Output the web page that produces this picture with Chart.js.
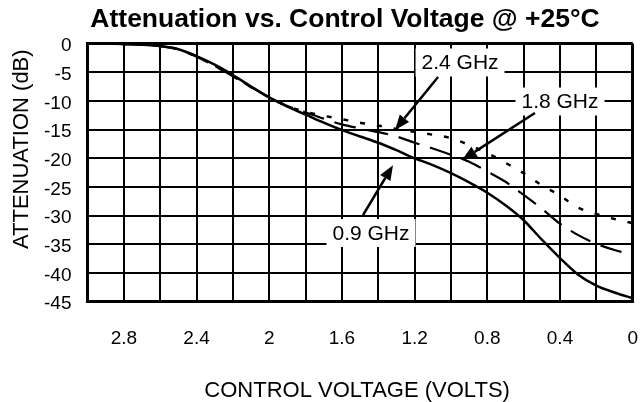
<!DOCTYPE html>
<html>
<head>
<meta charset="utf-8">
<script src="https://cdn.jsdelivr.net/npm/chart.js@4.4.1/dist/chart.umd.min.js"></script>
<style>
  html, body { margin: 0; padding: 0; background: #fff; }
  #wrap { width: 640px; height: 402px; }
</style>
</head>
<body>
<div id="wrap"><canvas id="chart" width="640" height="402"></canvas></div>
<script>
// Control voltage (V), every 0.1 V from 3.0 down to 0
const volts = [3.0, 2.9, 2.8, 2.7, 2.6, 2.5, 2.4, 2.3, 2.2, 2.1, 2.0,
               1.9, 1.8, 1.7, 1.6, 1.5, 1.4, 1.3, 1.2, 1.1, 1.0,
               0.9, 0.8, 0.7, 0.6, 0.5, 0.4, 0.3, 0.2, 0.1, 0.0];

// Attenuation (dB) per frequency
const att09 = [0, -0.05, -0.1, -0.2, -0.45, -1.0, -2.2, -3.7, -5.5, -7.5, -9.4,
               -11.0, -12.4, -13.8, -15.1, -16.2, -17.3, -18.6, -20.0, -21.2, -22.6,
               -24.2, -26.0, -28.2, -30.8, -34.2, -37.4, -40.3, -42.2, -43.4, -44.4];
const att18 = [0, -0.05, -0.1, -0.2, -0.45, -1.0, -2.3, -3.9, -5.7, -7.6, -9.4,
               -10.9, -12.0, -13.1, -14.1, -14.8, -15.45, -16.2, -17.3, -18.3, -19.4,
               -20.6, -22.3, -24.1, -26.4, -28.8, -31.4, -33.4, -34.9, -36.0, -36.8];
const att24 = [0, -0.05, -0.1, -0.2, -0.45, -1.0, -2.3, -3.9, -5.7, -7.6, -9.4,
               -10.9, -11.9, -12.6, -13.2, -13.8, -14.3, -14.9, -15.4, -15.9, -16.5,
               -17.7, -19.1, -20.8, -22.6, -24.7, -26.5, -28.6, -29.7, -30.6, -31.3];

const seriesNames = ['0.9 GHz', '1.8 GHz', '2.4 GHz'];

// x ticks every 0.2 V for the grid, but only these get a label
const xLabelTicks = [2.8, 2.4, 2.0, 1.6, 1.2, 0.8, 0.4, 0];

// Callouts: label centre, arrow start and arrow tip, all in data units
const callouts = [
    { text: '2.4 GHz', at: [0.95, -3.31], from: [1.071, -5.84], to: [1.308, -15.07] },
    { text: '1.8 GHz', at: [0.40, -10.11], from: [0.538, -12.1], to: [0.939, -20.3] },
    { text: '0.9 GHz', at: [1.44, -33.03], from: [1.484, -29.9], to: [1.319, -21.2] }
];

const FONT = '"Liberation Sans", Arial, Helvetica, sans-serif';

function toXY(values) {
    return volts.map((v, i) => ({ x: v, y: values[i] }));
}

function drawArrow(ctx, x1, y1, x2, y2) {
    const ang = Math.atan2(y2 - y1, x2 - x1);
    const headLen = 15, headW = 6;
    const bx = x2 - headLen * Math.cos(ang);
    const by = y2 - headLen * Math.sin(ang);
    ctx.beginPath();
    ctx.moveTo(x1, y1);
    ctx.lineTo(bx, by);
    ctx.lineWidth = 2.5;
    ctx.strokeStyle = '#000';
    ctx.stroke();
    ctx.beginPath();
    ctx.moveTo(x2, y2);
    ctx.lineTo(bx + headW * Math.sin(ang), by - headW * Math.cos(ang));
    ctx.lineTo(bx - headW * Math.sin(ang), by + headW * Math.cos(ang));
    ctx.closePath();
    ctx.fillStyle = '#000';
    ctx.fill();
}

// Title, axis titles and callouts, placed like the datasheet figure
const textPlugin = {
    id: 'sheetText',
    afterDraw(chart) {
        const ctx = chart.ctx;
        const area = chart.chartArea;
        const xs = chart.scales.x, ys = chart.scales.y;
        ctx.save();
        ctx.fillStyle = '#000';

        ctx.font = 'bold 26.5px ' + FONT;
        ctx.textAlign = 'center';
        ctx.textBaseline = 'alphabetic';
        ctx.fillText('Attenuation vs. Control Voltage @ +25°C', 345, 26.7);

        ctx.font = '22px ' + FONT;
        ctx.fillText('CONTROL VOLTAGE (VOLTS)', (area.left + area.right) / 2 - 3, 396.7);

        ctx.save();
        ctx.translate(28.3, 149.2);
        ctx.rotate(-Math.PI / 2);
        ctx.fillText('ATTENUATION (dB)', 0, 0);
        ctx.restore();

        ctx.font = '21px ' + FONT;
        ctx.textBaseline = 'middle';
        callouts.forEach(c => {
            const cx = xs.getPixelForValue(c.at[0]);
            const cy = ys.getPixelForValue(c.at[1]);
            const w = ctx.measureText(c.text).width;
            ctx.fillStyle = '#fff';
            ctx.fillRect(cx - w / 2 - 6, cy - 14, w + 12, 28);
            ctx.fillStyle = '#000';
            ctx.fillText(c.text, cx, cy + 1);
            drawArrow(ctx,
                xs.getPixelForValue(c.from[0]), ys.getPixelForValue(c.from[1]),
                xs.getPixelForValue(c.to[0]), ys.getPixelForValue(c.to[1]));
        });
        ctx.restore();
    }
};

const lineCommon = {
    borderColor: '#000',
    pointRadius: 0,
    fill: false,
    cubicInterpolationMode: 'monotone'
};

new Chart(document.getElementById('chart').getContext('2d'), {
    type: 'line',
    data: {
        datasets: [
            Object.assign({ label: seriesNames[0], data: toXY(att09), borderWidth: 2.5 }, lineCommon),
            Object.assign({ label: seriesNames[1], data: toXY(att18), borderWidth: 2.2, borderDash: [22, 11] }, lineCommon),
            Object.assign({ label: seriesNames[2], data: toXY(att24), borderWidth: 2.5, borderDash: [5, 12] }, lineCommon)
        ]
    },
    options: {
        responsive: false,
        animation: false,
        devicePixelRatio: 1,
        layout: { padding: { top: 43.5, right: 7.3, left: 0, bottom: 0 } },
        plugins: {
            legend: { display: false },
            title: { display: false },
            tooltip: { enabled: false }
        },
        scales: {
            x: {
                type: 'linear',
                reverse: true,
                min: 0,
                max: 3,
                afterFit: s => { s.height = 100.3; },
                border: { color: '#000', width: 3 },
                grid: {
                    color: '#000',
                    lineWidth: c => (c.tick && c.tick.value === 0 ? 3 : 2),
                    drawTicks: true,
                    tickLength: 25,
                    tickColor: 'rgba(0,0,0,0)'
                },
                ticks: {
                    stepSize: 0.2,
                    maxTicksLimit: 20,
                    autoSkip: false,
                    maxRotation: 0,
                    padding: 1,
                    color: '#000',
                    font: { family: FONT, size: 19 },
                    callback: v => {
                        const r = Math.round(v * 10) / 10;
                        return xLabelTicks.some(t => Math.abs(t - r) < 1e-6) ? String(r) : '';
                    }
                }
            },
            y: {
                min: -45,
                max: 0,
                afterFit: s => { s.width = 87.5; },
                border: { color: '#000', width: 3 },
                grid: {
                    color: '#000',
                    lineWidth: c => (c.tick && c.tick.value === 0 ? 3 : 2),
                    drawTicks: false
                },
                ticks: {
                    stepSize: 5,
                    padding: 16,
                    labelOffset: 2.5,
                    color: '#000',
                    font: { family: FONT, size: 19 }
                }
            }
        }
    },
    plugins: [textPlugin]
});
</script>
</body>
</html>
